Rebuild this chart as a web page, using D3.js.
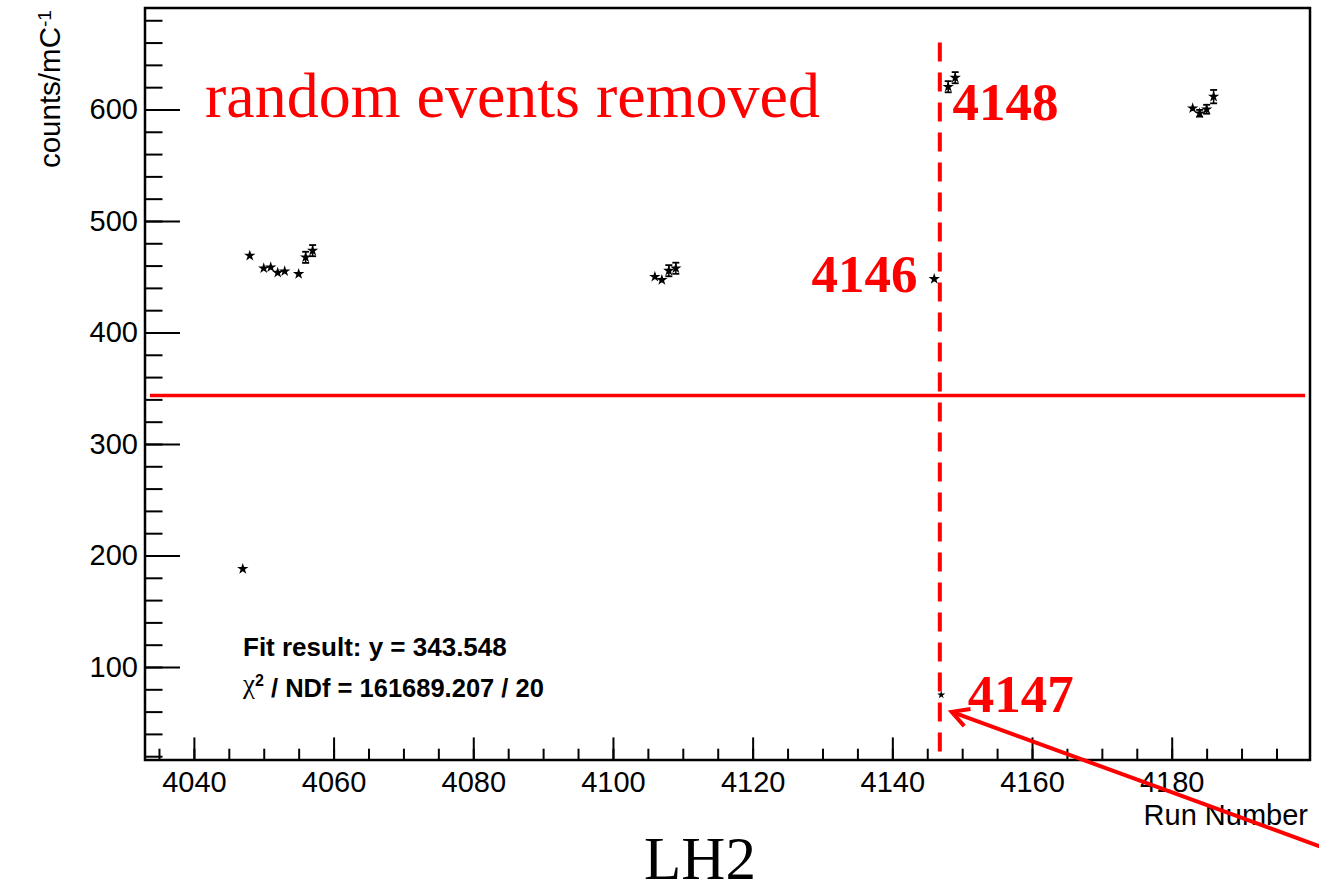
<!DOCTYPE html>
<html><head><meta charset="utf-8">
<script src="https://cdn.jsdelivr.net/npm/d3@7"></script>
<style>body{margin:0;background:#fff}svg{display:block}</style>
</head><body><svg id="c" width="1319" height="894"></svg>
<script>
// ---- data ----
const runs   = [4047, 4048, 4050, 4051, 4052, 4053, 4055, 4056, 4057,
                4106, 4107, 4108, 4109,
                4146, 4147, 4148, 4149,
                4183, 4184, 4185, 4186];
const counts = [188.0, 468.9, 457.6, 458.5, 453.6, 454.9, 452.5, 467.4, 473.4,
                450.0, 447.1, 455.4, 457.6,
                448.0, 75.0, 620.4, 628.5,
                601.1, 596.6, 600.2, 611.5];
const errors = [1.0, 1.5, 1.5, 1.5, 1.5, 1.5, 1.5, 5.0, 5.0,
                2.0, 2.0, 5.0, 5.0,
                2.0, 0.8, 5.0, 5.0,
                2.5, 3.0, 4.0, 6.0];
const xMajorTicks = [4040, 4060, 4080, 4100, 4120, 4140, 4160, 4180];
const xMinorTicks = d3.range(4035, 4200, 5);
const yMajorTicks = [100, 200, 300, 400, 500, 600];
const yMinorTicks = d3.range(20, 691, 20);
const fitValue = 343.548;
const fitRange = [4033.7, 4199.1];
const cutRun = 4146.8;
const cutTop = 660;
const runLabels = [{t: "4146", run: 4143.6, v: 436.3, anchor: "end"},
                   {t: "4147", run: 4150.8, v: 59.6, anchor: "start"},
                   {t: "4148", run: 4148.6, v: 590.5, anchor: "start"}];
const arrowTip = {run: 4148.5, v: 59.8};
const arrowTail = {run: 4203.9, v: -67};
const headline = "random events removed";
const targetLabel = "LH2";
const fitLine1 = "Fit result: y = 343.548";
const fitLine2 = " / NDf = 161689.207 / 20";

// ---- scales ----
const x = d3.scaleLinear().domain([4033, 4199.8]).range([145, 1310]);
const y = d3.scaleLinear().domain([16.6, 691]).range([760, 8]);
const svg = d3.select("#c");
const SANS = "'Liberation Sans', Arial, Helvetica, sans-serif";
const SERIF = "'Liberation Serif', 'Times New Roman', serif";
const RED = "#ff0000";

// ---- axes ----
const gx = svg.append("g").attr("transform", "translate(0,760)");
gx.call(d3.axisBottom(x).tickValues(xMinorTicks).tickSizeInner(-11.3).tickSizeOuter(0).tickFormat(""));
gx.select(".domain").remove();
const gxM = svg.append("g").attr("transform", "translate(0,760)");
gxM.call(d3.axisBottom(x).tickValues(xMajorTicks).tickSizeInner(-22.6).tickSizeOuter(0).tickPadding(11).tickFormat(d3.format("d")));
gxM.select(".domain").remove();

const gy = svg.append("g").attr("transform", "translate(145,0)");
gy.call(d3.axisLeft(y).tickValues(yMinorTicks).tickSizeInner(-17.5).tickSizeOuter(0).tickFormat(""));
gy.select(".domain").remove();
const gyM = svg.append("g").attr("transform", "translate(145,0)");
gyM.call(d3.axisLeft(y).tickValues(yMajorTicks).tickSizeInner(-35).tickSizeOuter(0).tickPadding(7).tickFormat(d3.format("d")));
gyM.select(".domain").remove();
svg.selectAll("g.tick line").attr("stroke", "#000").attr("stroke-width", 2);
svg.selectAll("g.tick text").attr("font-family", SANS).attr("font-size", 29).attr("fill", "#000");

// frame
svg.append("rect").attr("x", x.range()[0]).attr("y", y.range()[1])
  .attr("width", x.range()[1] - x.range()[0]).attr("height", y.range()[0] - y.range()[1])
  .attr("fill", "none").attr("stroke", "#000").attr("stroke-width", 2.5);

// axis titles
svg.append("text").attr("x", 1308).attr("y", 825).attr("text-anchor", "end")
  .attr("font-family", SANS).attr("font-size", 29).text("Run Number");
const yt = svg.append("text").attr("transform", "translate(60,10) rotate(-90)").attr("text-anchor", "end")
  .attr("font-family", SANS).attr("font-size", 29.5);
yt.append("tspan").text("counts/mC");
yt.append("tspan").attr("dy", "-0.45em").attr("font-size", "0.65em").text("-1");

// fit line
svg.append("line").attr("x1", x(fitRange[0])).attr("x2", x(fitRange[1]))
  .attr("y1", y(fitValue)).attr("y2", y(fitValue)).attr("stroke", RED).attr("stroke-width", 3.5);

// cut line
svg.append("line").attr("x1", x(cutRun)).attr("x2", x(cutRun))
  .attr("y1", y(cutTop)).attr("y2", y(16.6)).attr("stroke", RED).attr("stroke-width", 4)
  .attr("stroke-dasharray", "19,11");

// data points with error bars
const pts = runs.map((r, i) => ({r, v: counts[i], e: errors[i]}));
const gp = svg.append("g");
gp.selectAll("line.eb").data(pts).join("line").attr("class", "eb")
  .attr("x1", d => x(d.r)).attr("x2", d => x(d.r))
  .attr("y1", d => y(d.v - d.e)).attr("y2", d => y(d.v + d.e))
  .attr("stroke", "#000").attr("stroke-width", 1.5);
gp.selectAll("line.capT").data(pts.filter(d => d.e >= 3)).join("line")
  .attr("x1", d => x(d.r) - 3.5).attr("x2", d => x(d.r) + 3.5)
  .attr("y1", d => y(d.v + d.e)).attr("y2", d => y(d.v + d.e))
  .attr("stroke", "#000").attr("stroke-width", 1.8);
gp.selectAll("line.capB").data(pts.filter(d => d.e >= 3)).join("line")
  .attr("x1", d => x(d.r) - 3.5).attr("x2", d => x(d.r) + 3.5)
  .attr("y1", d => y(d.v - d.e)).attr("y2", d => y(d.v - d.e))
  .attr("stroke", "#000").attr("stroke-width", 1.8);
gp.selectAll("path.pt").data(pts).join("path").attr("class", "pt")
  .attr("transform", d => `translate(${x(d.r)},${y(d.v)})`)
  .attr("d", d => d3.symbol().type(d3.symbolStar).size(d.r === 4147 ? 20 : 40)())
  .attr("fill", "#000");

// headline
svg.append("text").attr("x", 205).attr("y", 117).attr("font-family", SERIF)
  .attr("font-size", 64).attr("fill", RED).text(headline);

// run labels
svg.selectAll("text.rl").data(runLabels).join("text").attr("class", "rl")
  .attr("x", d => x(d.run)).attr("y", d => y(d.v))
  .attr("text-anchor", d => d.anchor)
  .attr("font-family", SERIF).attr("font-weight", "bold").attr("font-size", 53).attr("fill", RED)
  .text(d => d.t);

// fit result text
svg.append("text").attr("x", 243).attr("y", 656).attr("font-family", SANS).attr("font-weight", "bold")
  .attr("font-size", 26).text(fitLine1);
const ct = svg.append("text").attr("x", 243).attr("y", 693).attr("font-family", SANS).attr("font-size", 25.5);
ct.append("tspan").attr("font-family", SERIF).attr("font-size", 27).text("χ");
ct.append("tspan").attr("dy", "-0.45em").attr("font-size", 16).attr("font-weight", "bold").text("2");
ct.append("tspan").attr("dy", "0.45em").attr("font-weight", "bold").text(fitLine2);

// arrow
const tx = x(arrowTip.run), ty = y(arrowTip.v);
const ex = x(arrowTail.run), ey = y(arrowTail.v);
const ang = Math.atan2(ey - ty, ex - tx);
svg.append("line").attr("x1", tx).attr("y1", ty).attr("x2", ex).attr("y2", ey)
  .attr("stroke", RED).attr("stroke-width", 4);
const hl = 19, ha = 0.5;
svg.append("path")
  .attr("d", `M${tx + hl * Math.cos(ang - ha)},${ty + hl * Math.sin(ang - ha)}L${tx},${ty}L${tx + hl * Math.cos(ang + ha)},${ty + hl * Math.sin(ang + ha)}`)
  .attr("fill", "none").attr("stroke", RED).attr("stroke-width", 4).attr("stroke-linejoin", "miter");

// bottom target label
svg.append("text").attr("x", 700).attr("y", 879).attr("text-anchor", "middle")
  .attr("font-family", SERIF).attr("font-size", 61).text(targetLabel);
</script></body></html>
